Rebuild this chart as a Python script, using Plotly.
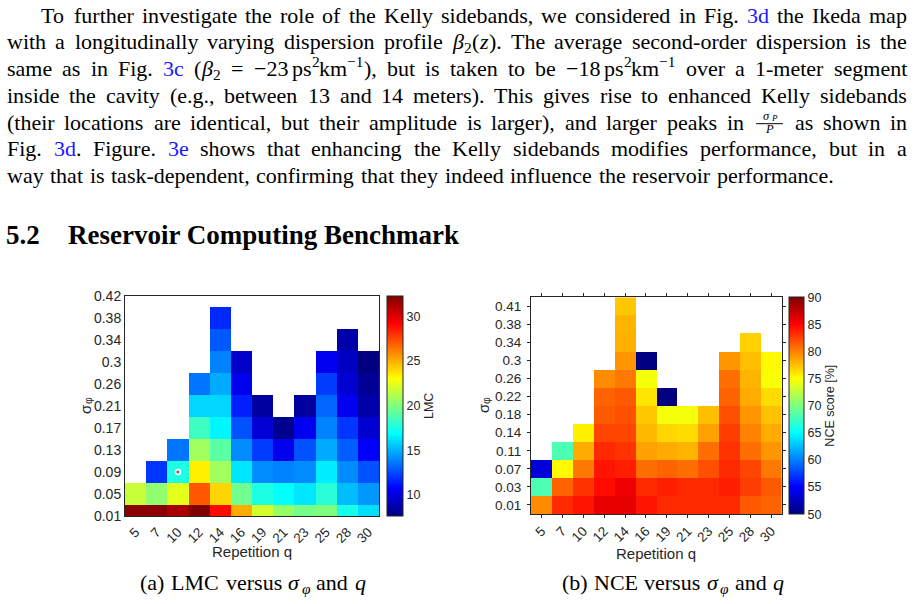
import re
import plotly.graph_objects as go

W, H = 915, 604

# ---------------- data ----------------
q_labels = ['5', '7', '10', '12', '14', '16', '19', '21', '23', '25', '28', '30']
lmc_sigma_labels = ['0.01', '0.05', '0.09', '0.13', '0.17', '0.21', '0.26', '0.3', '0.34', '0.38', '0.42']
nce_sigma_labels = ['0.01', '0.03', '0.07', '0.11', '0.14', '0.18', '0.22', '0.26', '0.3', '0.34', '0.38', '0.41']

# LMC, one list per q column, from the smallest sigma upward
lmc_q5 = [32.0, 21.7]
lmc_q7 = [32.0, 20.4, 12.0]
lmc_q10 = [31.3, 22.4, 17.6, 13.6]
lmc_q12 = [32.3, 27.1, 23.4, 20.8, 18.4, 15.9, 13.6]
lmc_q14 = [29.0, 24.1, 20.8, 19.1, 16.7, 15.9, 14.9, 13.9, 12.9, 11.7]
lmc_q16 = [25.1, 19.6, 16.3, 14.1, 12.7, 11.5, 10.3, 9.4]
lmc_q19 = [22.0, 17.6, 14.1, 12.2, 9.7, 8.4]
lmc_q21 = [20.5, 16.9, 13.9, 10.3, 8.0]
lmc_q23 = [19.8, 16.3, 14.1, 12.7, 10.4, 8.4]
lmc_q25 = [20.0, 17.9, 16.5, 14.9, 13.9, 13.2, 12.2, 10.4]
lmc_q28 = [17.4, 15.3, 14.1, 13.0, 12.0, 10.4, 9.6, 9.3, 8.7]
lmc_q30 = [16.1, 14.4, 12.7, 10.6, 9.6, 8.7, 8.2, 7.66]

# NCE score [%], one list per q column, from the smallest sigma upward
nce_q5 = [79.5, 68.0, 53.5]
nce_q7 = [83.4, 81.1, 75.2, 68.0]
nce_q10 = [84.2, 83.0, 80.3, 78.3, 75.6]
nce_q12 = [86.0, 84.6, 84.2, 83.4, 82.3, 81.5, 81.1, 79.5]
nce_q14 = [86.0, 85.6, 83.8, 83.0, 82.3, 81.9, 81.5, 80.3, 79.1, 78.1, 77.9, 77.2]
nce_q16 = [84.2, 83.4, 80.7, 78.7, 77.7, 77.2, 76.0, 74.6, 50.0]
nce_q19 = [83.4, 83.8, 81.1, 78.3, 76.6, 74.6, 50.0]
nce_q21 = [83.4, 83.4, 80.7, 77.9, 76.4, 74.6]
nce_q23 = [83.4, 83.4, 81.9, 80.7, 78.7, 77.5]
nce_q25 = [83.4, 83.8, 83.4, 83.0, 82.6, 81.9, 81.1, 80.7, 79.1]
nce_q28 = [81.5, 82.6, 82.3, 80.7, 79.9, 79.1, 78.3, 77.9, 77.5, 76.8]
nce_q30 = [81.1, 81.5, 80.3, 79.1, 78.3, 77.4, 76.4, 74.8, 75.2]
nce_cmin, nce_cmax = 50, 90

marked_cell = ('10', '0.09')  # grey dot in the LMC map

lmc_cols = [lmc_q5, lmc_q7, lmc_q10, lmc_q12, lmc_q14, lmc_q16, lmc_q19, lmc_q21, lmc_q23, lmc_q25, lmc_q28, lmc_q30]
nce_cols = [nce_q5, nce_q7, nce_q10, nce_q12, nce_q14, nce_q16, nce_q19, nce_q21, nce_q23, nce_q25, nce_q28, nce_q30]


def to_grid(cols, nrows):
    return [[col[r] if r < len(col) else None for col in cols] for r in range(nrows)]


lmc_z = to_grid(lmc_cols, len(lmc_sigma_labels))
nce_z = to_grid(nce_cols, len(nce_sigma_labels))

# ---------------- style ----------------
SERIF = 'Liberation Serif'
SANS = 'Liberation Sans'
DARK = 'rgb(38,38,38)'
BLUE = 'rgb(25,25,255)'
JET = [[0.0, 'rgb(0,0,128)'], [0.125, 'rgb(0,0,255)'], [0.375, 'rgb(0,255,255)'],
       [0.625, 'rgb(255,255,0)'], [0.875, 'rgb(255,0,0)'], [1.0, 'rgb(128,0,0)']]

annotations = []
shapes = []


def add_text(x, yc, text, size, color='black', family=SERIF, xanchor='left', angle=0):
    annotations.append(dict(x=x / W, y=1 - yc / H, xref='paper', yref='paper', text=text,
                            showarrow=False, xanchor=xanchor, yanchor='middle', textangle=angle,
                            borderpad=0, borderwidth=0,
                            font=dict(family=family, size=round(size, 1), color=color)))


# Times metric widths (1/1000 em)
TW = {' ': 250, '%': 833, '(': 333, ')': 333, ',': 250, '-': 333, '.': 250, ':': 278, '=': 564,
      '[': 333, ']': 333, 'β': 550, 'σ': 600, 'φ': 520, '−': 564,
      'A': 722, 'B': 667, 'C': 667, 'D': 722, 'E': 611, 'F': 556, 'G': 722, 'H': 722, 'I': 333,
      'J': 389, 'K': 722, 'L': 611, 'M': 889, 'N': 722, 'O': 722, 'P': 556, 'Q': 722, 'R': 667,
      'S': 556, 'T': 611, 'U': 722, 'V': 722, 'W': 944, 'X': 722, 'Y': 722, 'Z': 611,
      'a': 444, 'b': 500, 'c': 444, 'd': 500, 'e': 444, 'f': 333, 'g': 500, 'h': 500, 'i': 278,
      'j': 278, 'k': 500, 'l': 278, 'm': 778, 'n': 500, 'o': 500, 'p': 500, 'q': 500, 'r': 333,
      's': 389, 't': 278, 'u': 500, 'v': 500, 'w': 722, 'x': 500, 'y': 500, 'z': 444}


def tw(s):
    return sum(TW.get(c, 500) for c in s) / 1000.0


ASC = 0.34


def parse_word(word):
    pieces = []
    for m in re.finditer(r'\{(\w):([^}]*)\}|([^{]+)', word):
        if m.group(3) is not None:
            for k, part in enumerate(m.group(3).split('~')):
                if k > 0:
                    pieces.append(('', 'gap'))
                if part:
                    pieces.append((part, 'n'))
        else:
            pieces.append((m.group(2), m.group(1)))
    return pieces


def piece_width(p, S):
    t, k = p
    if k == 'gap':
        return 0.17 * S
    if k == 'f':
        return 1.4 * S
    if k in ('s', 'S', 'u'):
        return tw(t) * 0.7 * S
    return tw(t) * S


def render_piece(p, x, b, S):
    t, k = p
    if k == 'n':
        add_text(x, b - ASC * S, t, S)
    elif k == 'b':
        add_text(x, b - ASC * S, t, S, color=BLUE)
    elif k == 'i':
        add_text(x, b - ASC * S, '<i>' + t + '</i>', S)
    elif k == 's':
        s = 0.7 * S
        add_text(x, b + 0.15 * S - ASC * s, t, s)
    elif k == 'u':
        s = 0.7 * S
        add_text(x, b + 0.15 * S - ASC * s, '<i>' + t + '</i>', s)
    elif k == 'S':
        s = 0.7 * S
        add_text(x, b - 0.42 * S - ASC * s, t, s)
    elif k == 'f':
        fw = 1.4 * S
        xc = x + fw / 2
        s = 12.5
        sp = 9
        wn = tw('σ') * s + tw('P') * sp
        add_text(xc - wn / 2, b - 9.5 - ASC * s, '<i>σ</i>', s)
        add_text(xc - wn / 2 + tw('σ') * s, b - 9 - ASC * sp, '<i>P</i>', sp)
        add_text(xc, b + 4 - ASC * s, '<i>P</i>', s, xanchor='center')
        shapes.append(dict(type='line', xref='paper', yref='paper',
                           x0=(x + 2) / W, x1=(x + fw - 2) / W,
                           y0=1 - (b - 6) / H, y1=1 - (b - 6) / H,
                           line=dict(color='black', width=1)))


def layout_line(text, left, right, baseline, S, justify=True, center=None):
    words = [parse_word(w) for w in text.split(' ')]
    widths = [sum(piece_width(p, S) for p in w) for w in words]
    if justify and len(words) > 1:
        gap = (right - left - sum(widths)) / (len(words) - 1)
    else:
        gap = 0.3 * S
    if center is not None:
        left = center - (sum(widths) + gap * (len(words) - 1)) / 2
    x = left
    for w, ww in zip(words, widths):
        xx = x
        for p in w:
            render_piece(p, xx, baseline, S)
            xx += piece_width(p, S)
        x += ww + gap


# ---------------- page text ----------------
para = [
    "To further investigate the role of the Kelly sidebands, we considered in Fig. {b:3d} the Ikeda map",
    "with a longitudinally varying dispersion profile {i:β}{s:2}({i:z}). The average second-order dispersion is the",
    "same as in Fig. {b:3c} ({i:β}{s:2} = −23~ps{S:2}km{S:−1}), but is taken to be −18~ps{S:2}km{S:−1} over a 1-meter segment",
    "inside the cavity (e.g., between 13 and 14 meters). This gives rise to enhanced Kelly sidebands",
    "(their locations are identical, but their amplitude is larger), and larger peaks in {f:} as shown in",
    "Fig. {b:3d}. Figure. {b:3e} shows that enhancing the Kelly sidebands modifies performance, but in a",
    "way that is task-dependent, confirming that they indeed influence the reservoir performance.",
]
S_BODY = 22
for i, line in enumerate(para):
    b = 22.7 + i * 26.75
    left = 41 if i == 0 else 7
    layout_line(line, left, 907, b, S_BODY, justify=(i < len(para) - 1))

add_text(6, 244.5 - ASC * 27, '<b>5.2</b>', 27)
add_text(68, 244.5 - ASC * 27, '<b>Reservoir Computing Benchmark</b>', 27)

caption_a = "(a) LMC versus {i:σ}{u:φ} and {i:q}"
caption_b = "(b) NCE versus {i:σ}{u:φ} and {i:q}"
layout_line(caption_a, 0, 0, 590, 22, justify=False, center=253)
layout_line(caption_b, 0, 0, 590, 22, justify=False, center=673)

# axis titles
add_text(252, 551, 'Repetition q', 15, color=DARK, family=SANS, xanchor='center')
add_text(656, 553, 'Repetition q', 15, color=DARK, family=SANS, xanchor='center')
for (xt, yt) in [(85, 406), (483, 405)]:
    add_text(xt, yt + 3, 'σ', 15, color=DARK, family=SANS, xanchor='center', angle=-90)
    add_text(xt + 3, yt - 5, 'φ', 10.5, color=DARK, family=SANS, xanchor='center', angle=-90)

# ---------------- figure ----------------
fig = go.Figure()
fig.add_trace(go.Heatmap(
    z=lmc_z, x=q_labels, y=lmc_sigma_labels, colorscale=JET, xaxis='x', yaxis='y',
    hoverinfo='skip', zsmooth=False,
    colorbar=dict(x=386.7 / W, xanchor='left', xpad=0, y=1 - (295.7 + 516) / 2 / H, yanchor='middle',
                  ypad=0, len=(516 - 295.7) / H, lenmode='fraction', thickness=15.6,
                  outlinewidth=1, outlinecolor=DARK, ticks='', tickvals=[10, 15, 20, 25, 30],
                  tickfont=dict(family=SANS, size=12.5, color=DARK),
                  title=dict(text='LMC', side='right', font=dict(family=SANS, size=12.5, color=DARK)))))
fig.add_trace(go.Scatter(
    x=[marked_cell[0]], y=[marked_cell[1]], mode='markers', xaxis='x', yaxis='y', hoverinfo='skip',
    showlegend=False,
    marker=dict(size=5, color='rgb(128,128,128)', line=dict(color='white', width=1.5))))
fig.add_trace(go.Heatmap(
    z=nce_z, x=q_labels, y=nce_sigma_labels, colorscale=JET, zmin=nce_cmin, zmax=nce_cmax,
    xaxis='x2', yaxis='y2', hoverinfo='skip', zsmooth=False,
    colorbar=dict(x=789 / W, xanchor='left', xpad=0, y=1 - (297.3 + 514) / 2 / H, yanchor='middle',
                  ypad=0, len=(514 - 297.3) / H, lenmode='fraction', thickness=15,
                  outlinewidth=1, outlinecolor=DARK, ticks='', dtick=5, tick0=50,
                  tickfont=dict(family=SANS, size=12.5, color=DARK),
                  title=dict(text='NCE score [%]', side='right',
                             font=dict(family=SANS, size=12.5, color=DARK)))))

common = dict(type='category', showgrid=False, zeroline=False, showline=True, linecolor=DARK,
              linewidth=1, tickfont=dict(family=SANS, size=13.5, color=DARK))

fig.update_layout(
    width=W, height=H, template='none', paper_bgcolor='white', plot_bgcolor='white',
    margin=dict(l=0, r=0, t=0, b=0, pad=0), showlegend=False,
    font=dict(family=SANS, color=DARK),
    xaxis=dict(common, domain=[125 / W, 379 / W], anchor='y', range=[-0.5, 11.5], mirror=True,
               ticks='', ticklen=0, tickangle=-45, ticklabelstandoff=2),
    yaxis=dict(common, domain=[1 - 516 / H, 1 - 296 / H], anchor='x', range=[0, 10], mirror=True,
               ticks='', ticklen=0, ticklabelstandoff=0, tickfont=dict(family=SANS, size=14, color=DARK)),
    xaxis2=dict(common, domain=[531 / W, 781.7 / W], anchor='y2', range=[-0.5, 11.5], mirror='ticks',
                ticks='outside', ticklen=3, tickcolor=DARK, tickangle=-45),
    yaxis2=dict(common, domain=[1 - 514 / H, 1 - 297.3 / H], anchor='x2', range=[-0.5, 11.5],
                mirror='ticks', ticks='outside', ticklen=3, tickcolor=DARK, ticklabelstandoff=3),
    annotations=annotations, shapes=shapes,
)

fig.write_html("out.html", config={'displayModeBar': False})
